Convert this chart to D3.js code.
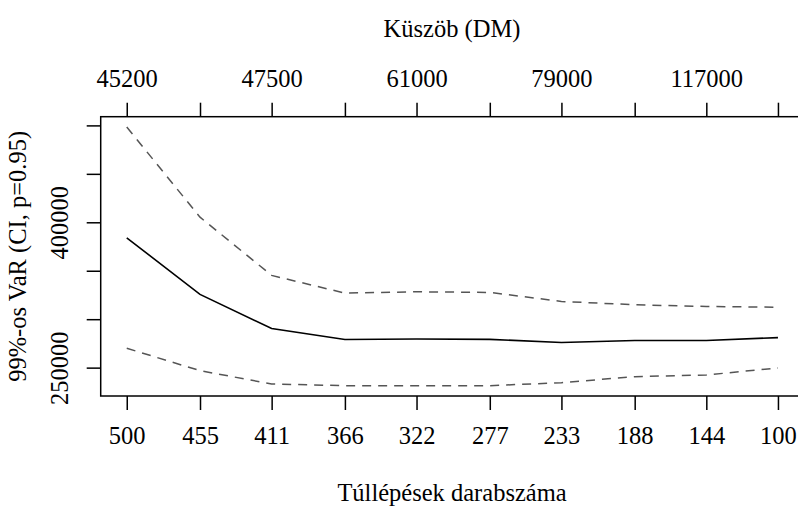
<!DOCTYPE html>
<html>
<head>
<meta charset="utf-8">
<script src="https://cdn.jsdelivr.net/npm/d3@7"></script>
<style>
  body { margin: 0; background: #fff; }
  svg text { font-family: "Liberation Serif", "DejaVu Serif", serif; fill: #000; }
</style>
</head>
<body>
<div id="chart"></div>
<script>
// number of exceedances (bottom axis) and matching thresholds (top axis)
var exceedances = [500, 455, 411, 366, 322, 277, 233, 188, 144, 100];
var thresholdLabels = ["45200", "", "47500", "", "61000", "", "79000", "", "117000", ""];

// VaR estimate and confidence bounds
var varEstimate = [384000, 325600, 290400, 279000, 279500, 279200, 275900, 278000, 278000, 281000];
var upperBound  = [498300, 405300, 345200, 326900, 328300, 327600, 318300, 314900, 313100, 312400];
var lowerBound  = [270000, 246900, 233100, 231400, 231400, 231400, 234500, 240700, 242400, 249700];

var yTicks = [250000, 300000, 350000, 400000, 450000, 500000];
var yTickLabels = { 250000: "250000", 400000: "400000" };

var width = 798, height = 506;
var box = { left: 100.7, right: 804, top: 116.7, bottom: 396 };

var svg = d3.select("#chart").append("svg")
  .attr("width", width)
  .attr("height", height);

// R style 4% padding on both axes
var xPad = (exceedances[0] - exceedances[exceedances.length - 1]) * 0.04;
var x = d3.scaleLinear()
  .domain([exceedances[0] + xPad, exceedances[exceedances.length - 1] - xPad])
  .range([box.left, box.right]);

var allVals = upperBound.concat(lowerBound, varEstimate);
var yMin = d3.min(allVals), yMax = d3.max(allVals);
var yPad = (yMax - yMin) * 0.04;
var y = d3.scaleLinear()
  .domain([yMin - yPad, yMax + yPad])
  .range([box.bottom, box.top]);

var tickLen = 14;
var fontSize = "24.5px";

// bottom axis
var bottomAxis = d3.axisBottom(x)
  .tickValues(exceedances)
  .tickFormat(d3.format("d"))
  .tickSize(tickLen)
  .tickPadding(17);
var gb = svg.append("g")
  .attr("transform", "translate(0," + box.bottom + ")")
  .call(bottomAxis);

// top axis, labels on every other tick
var topAxis = d3.axisTop(x)
  .tickValues(exceedances)
  .tickFormat(function (d, i) { return thresholdLabels[i]; })
  .tickSize(tickLen)
  .tickPadding(16);
var gt = svg.append("g")
  .attr("transform", "translate(0," + box.top + ")")
  .call(topAxis);

// left axis
var leftAxis = d3.axisLeft(y)
  .tickValues(yTicks)
  .tickFormat(function (d) { return yTickLabels[d] || ""; })
  .tickSize(tickLen)
  .tickPadding(8);
var gl = svg.append("g")
  .attr("transform", "translate(" + box.left + ",0)")
  .call(leftAxis);

[gb, gt, gl].forEach(function (g) {
  g.select(".domain").remove();
  g.selectAll(".tick line").attr("stroke", "#000").attr("stroke-width", 1.5);
  g.selectAll(".tick text").style("font-size", fontSize)
    .style("font-family", "Liberation Serif, serif");
});

// rotate y tick labels like R (las = 0)
gl.selectAll(".tick text")
  .attr("transform", "rotate(-90)")
  .attr("x", 0)
  .attr("dy", 0)
  .attr("y", -33)
  .style("text-anchor", "middle");

// plot frame
svg.append("rect")
  .attr("x", box.left)
  .attr("y", box.top)
  .attr("width", box.right - box.left)
  .attr("height", box.bottom - box.top)
  .attr("fill", "none")
  .attr("stroke", "#000")
  .attr("stroke-width", 1.5);

var line = d3.line()
  .x(function (d, i) { return x(exceedances[i]); })
  .y(function (d) { return y(d); });

svg.append("path")
  .datum(upperBound)
  .attr("d", line)
  .attr("fill", "none")
  .attr("stroke", "#555")
  .attr("stroke-width", 1.5)
  .attr("stroke-dasharray", "9,7");

svg.append("path")
  .datum(lowerBound)
  .attr("d", line)
  .attr("fill", "none")
  .attr("stroke", "#555")
  .attr("stroke-width", 1.5)
  .attr("stroke-dasharray", "9,7");

svg.append("path")
  .datum(varEstimate)
  .attr("d", line)
  .attr("fill", "none")
  .attr("stroke", "#000")
  .attr("stroke-width", 1.6);

// titles
svg.append("text")
  .attr("x", 452)
  .attr("y", 37)
  .attr("text-anchor", "middle")
  .style("font-size", fontSize)
  .text("Küszöb (DM)");

svg.append("text")
  .attr("x", 452)
  .attr("y", 501)
  .attr("text-anchor", "middle")
  .style("font-size", fontSize)
  .text("Túllépések darabszáma");

svg.append("text")
  .attr("transform", "translate(26," + ((box.top + box.bottom) / 2) + ") rotate(-90)")
  .attr("text-anchor", "middle")
  .style("font-size", fontSize)
  .text("99%-os VaR (CI, p=0.95)");
</script>
</body>
</html>
